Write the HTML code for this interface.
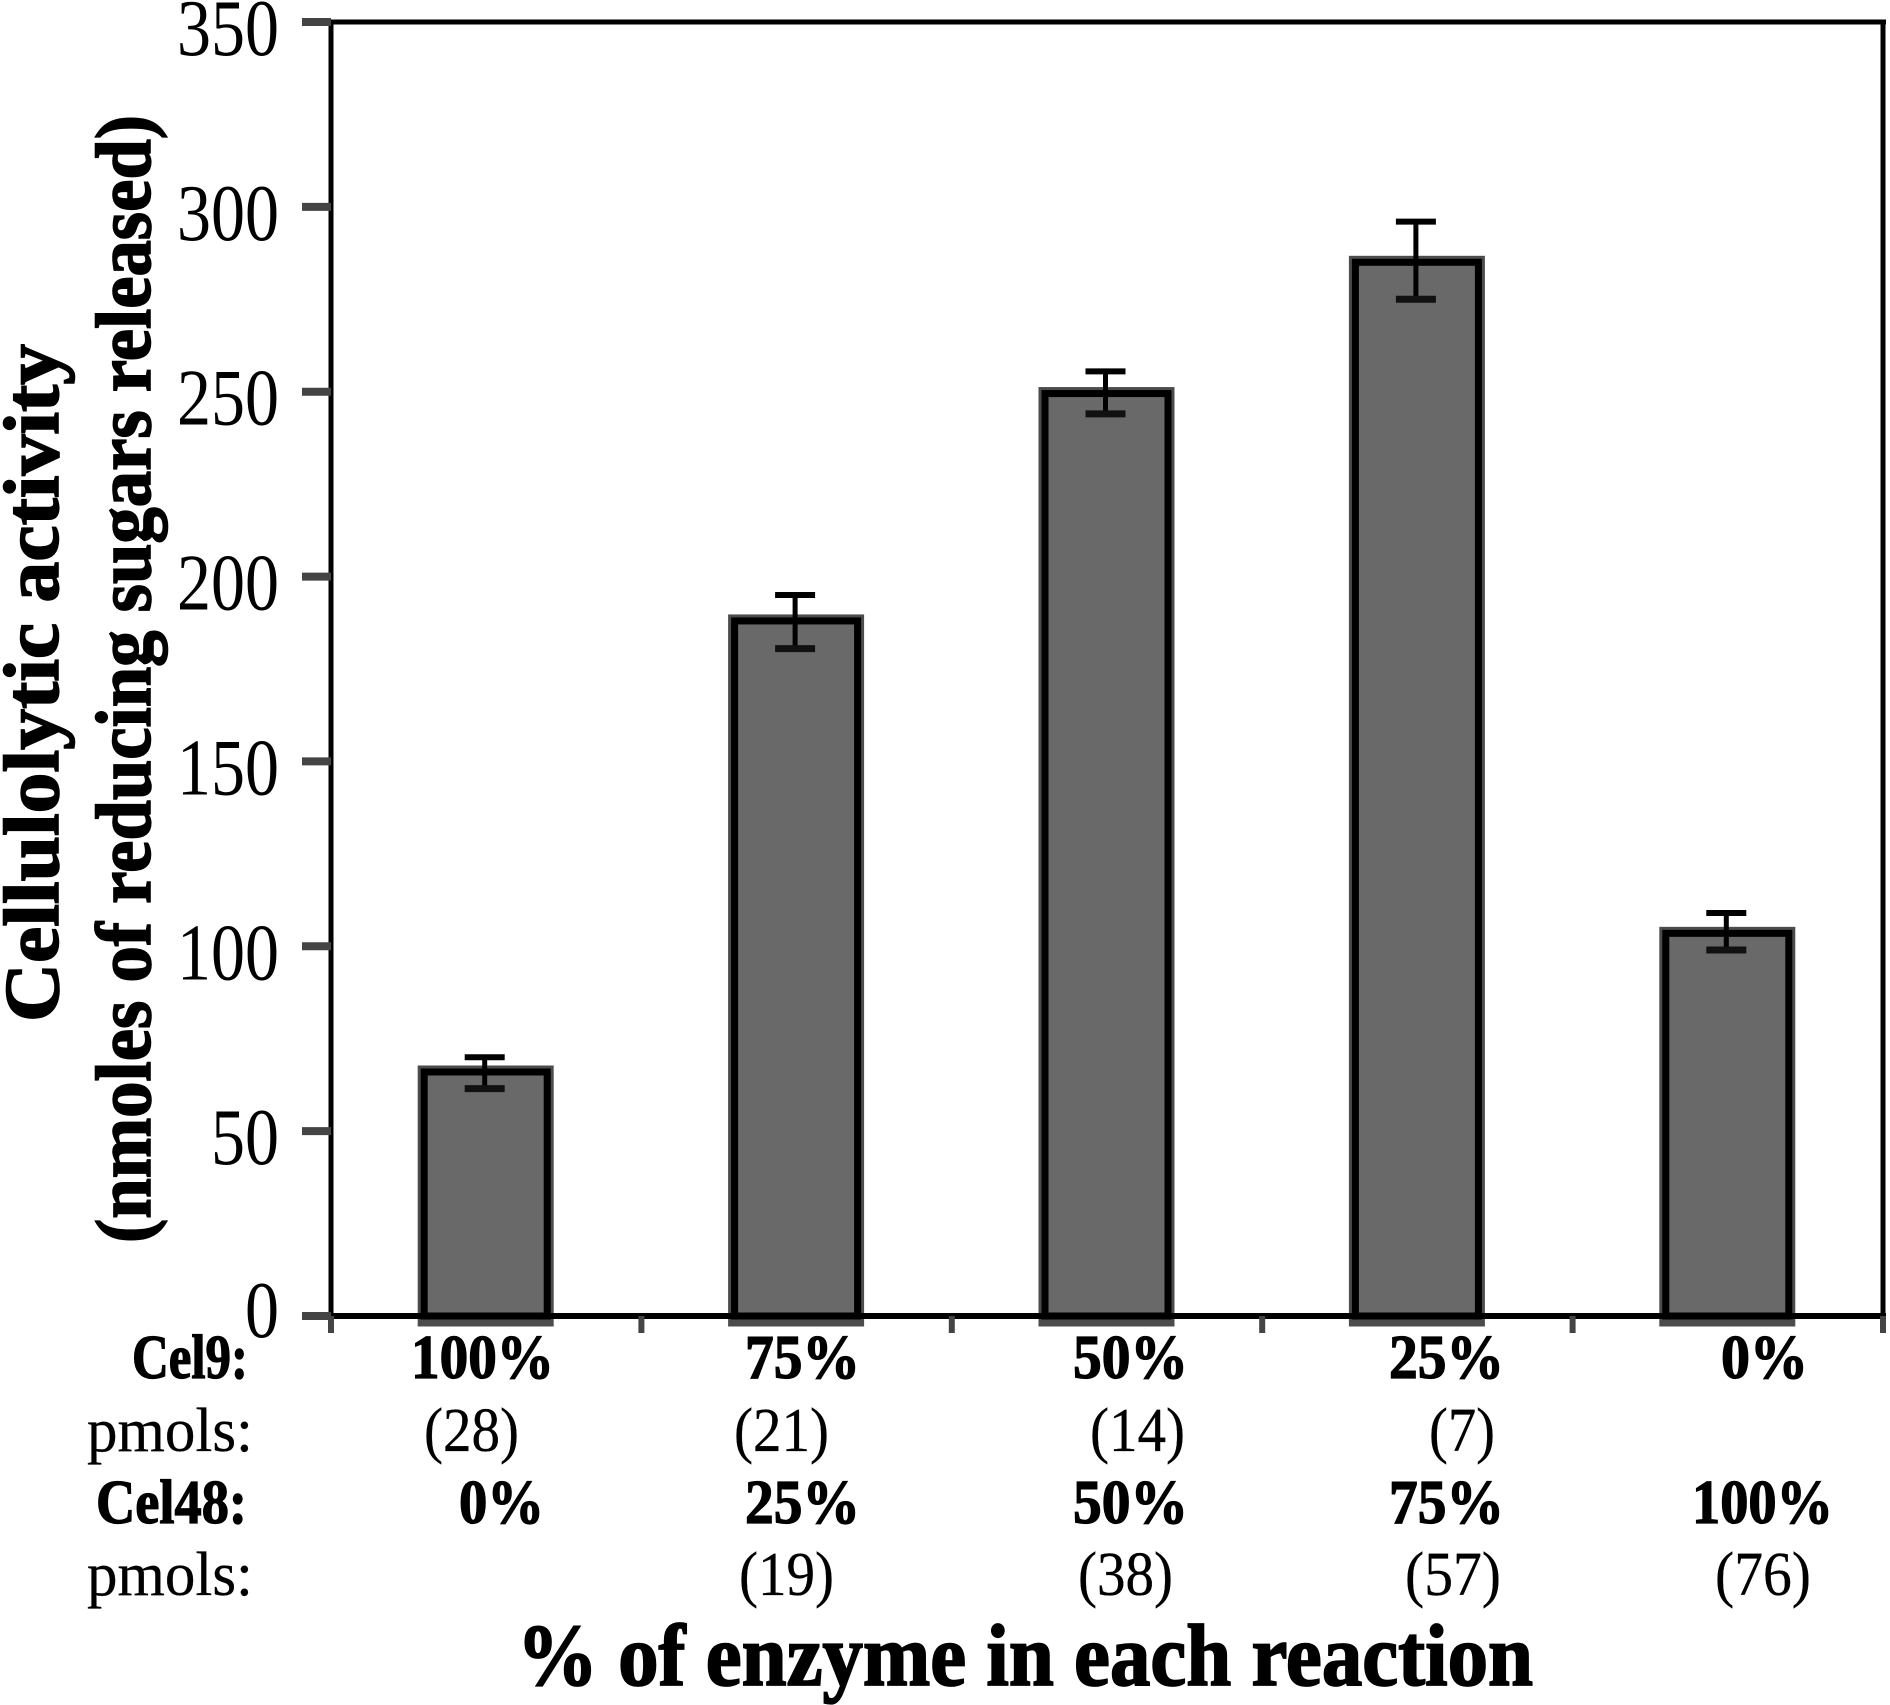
<!DOCTYPE html>
<html lang="en">
<head>
<meta charset="utf-8">
<title>Cellulolytic activity chart</title>
<style>
html,body{margin:0;padding:0;background:#fff;}
svg{display:block;}
text{font-family:"Liberation Serif",serif;fill:#000;}
.tick{font-size:80px;}
.b{font-weight:bold;font-size:62px;stroke:#000;stroke-width:1.3px;}
.n{font-size:62px;stroke:#000;stroke-width:.3px;}
.title{font-weight:bold;font-size:88px;stroke:#000;stroke-width:1.8px;}
.yt{font-weight:bold;font-size:78px;stroke:#000;stroke-width:1.6px;}
</style>
</head>
<body>
<svg id="chart" width="1890" height="1705" viewBox="0 0 1890 1705" xmlns="http://www.w3.org/2000/svg">
<rect width="1890" height="1705" fill="#fff"/>
<g id="marks"></g>
<g id="axes"></g>

<text class="yt" x="58" y="1022" transform="rotate(-90 58 1022)" textLength="678" lengthAdjust="spacingAndGlyphs">Cellulolytic activity</text>
<text class="yt" x="150" y="1243" transform="rotate(-90 150 1243)" textLength="1128" lengthAdjust="spacingAndGlyphs">(nmoles of reducing sugars released)</text>

<g>
<text class="b" x="132" y="1378" textLength="116" lengthAdjust="spacingAndGlyphs">Cel9:</text>
<text class="b" x="411" y="1378" textLength="143" lengthAdjust="spacingAndGlyphs">100%</text>
<text class="b" x="745" y="1378" textLength="115" lengthAdjust="spacingAndGlyphs">75%</text>
<text class="b" x="1073" y="1378" textLength="115" lengthAdjust="spacingAndGlyphs">50%</text>
<text class="b" x="1389" y="1378" textLength="115" lengthAdjust="spacingAndGlyphs">25%</text>
<text class="b" x="1721" y="1378" textLength="87" lengthAdjust="spacingAndGlyphs">0%</text>
</g>
<g>
<text class="n" x="87" y="1451" textLength="166" lengthAdjust="spacingAndGlyphs">pmols:</text>
<text class="n" x="424" y="1451" textLength="95" lengthAdjust="spacingAndGlyphs">(28)</text>
<text class="n" x="734" y="1451" textLength="95" lengthAdjust="spacingAndGlyphs">(21)</text>
<text class="n" x="1090" y="1451" textLength="95" lengthAdjust="spacingAndGlyphs">(14)</text>
<text class="n" x="1429" y="1451" textLength="66" lengthAdjust="spacingAndGlyphs">(7)</text>
</g>
<g>
<text class="b" x="96" y="1523" textLength="151" lengthAdjust="spacingAndGlyphs">Cel48:</text>
<text class="b" x="459" y="1523" textLength="85" lengthAdjust="spacingAndGlyphs">0%</text>
<text class="b" x="745" y="1523" textLength="115" lengthAdjust="spacingAndGlyphs">25%</text>
<text class="b" x="1073" y="1523" textLength="115" lengthAdjust="spacingAndGlyphs">50%</text>
<text class="b" x="1389" y="1523" textLength="115" lengthAdjust="spacingAndGlyphs">75%</text>
<text class="b" x="1692" y="1523" textLength="141" lengthAdjust="spacingAndGlyphs">100%</text>
</g>
<g>
<text class="n" x="87" y="1595" textLength="166" lengthAdjust="spacingAndGlyphs">pmols:</text>
<text class="n" x="739" y="1595" textLength="95" lengthAdjust="spacingAndGlyphs">(19)</text>
<text class="n" x="1078" y="1595" textLength="95" lengthAdjust="spacingAndGlyphs">(38)</text>
<text class="n" x="1405" y="1595" textLength="96" lengthAdjust="spacingAndGlyphs">(57)</text>
<text class="n" x="1715" y="1595" textLength="96" lengthAdjust="spacingAndGlyphs">(76)</text>
</g>
<text class="title" x="517" y="1685" textLength="1016" lengthAdjust="spacingAndGlyphs">% of enzyme in each reaction</text>
</svg>
<script>
const categories = ["100/0", "75/25", "50/50", "25/75", "0/100"];
const activity = [66, 188, 249.5, 285, 103.5];
const errorHigh = [70, 195, 255.5, 296, 109];
const errorLow = [61.5, 180.5, 244, 275, 99];
const yTicks = [0, 50, 100, 150, 200, 250, 300, 350];

const plotLeft = 331, plotRight = 1883, plotTop = 22, plotBottom = 1316, yMax = 350;
function yScale(v) { return plotBottom - (v / yMax) * (plotBottom - plotTop); }
function xBand() { return (plotRight - plotLeft) / categories.length; }
function xScale(i) { return plotLeft + xBand() * (i + 0.5); }
function xEdge(i) { return plotLeft + xBand() * i; }

const NS = "http://www.w3.org/2000/svg";
function mk(tag, parent, attrs) {
  const e = document.createElementNS(NS, tag);
  for (const k in attrs) e.setAttribute(k, attrs[k]);
  parent.appendChild(e);
  return e;
}
const marks = document.getElementById("marks");
const axes = document.getElementById("axes");
const barW = 123;

categories.forEach(function (c, i) {
  const cx = xScale(i) - 0.5, top = yScale(activity[i]);
  const halo = mk("rect", marks, { x: cx - barW / 2, y: top, width: barW, height: plotBottom - top + 4, fill: "#696969", stroke: "#4c4c4c", "stroke-width": 13 });
  
  
  const bar = mk("rect", marks, { x: cx - barW / 2, y: top, width: barW, height: plotBottom - top, fill: "#696969", stroke: "#000", "stroke-width": 7 });
  
  
  const hi = yScale(errorHigh[i]), lo = yScale(errorLow[i]), ex = cx - 1;
  const stem = mk("line", marks, { x1: ex, x2: ex, y1: hi, y2: lo, stroke: "#000", "stroke-width": 5 });
  
  
  const capHi = mk("line", marks, { x1: ex - 20, x2: ex + 20, y1: hi, y2: hi, stroke: "#000", "stroke-width": 6 });
  
  
  const capLo = mk("line", marks, { x1: ex - 20, x2: ex + 20, y1: lo, y2: lo, stroke: "#111", "stroke-width": 7 });
  
  
});

const frameTop = mk("line", axes, { x1: plotLeft, x2: plotRight + 3, y1: plotTop, y2: plotTop, stroke: "#000", "stroke-width": 5 });


const frameRight = mk("line", axes, { x1: plotRight, x2: plotRight, y1: plotTop, y2: plotBottom, stroke: "#000", "stroke-width": 5 });


const yAxis = mk("line", axes, { x1: plotLeft, x2: plotLeft, y1: plotTop, y2: plotBottom + 17, stroke: "#000", "stroke-width": 5 });


const xAxis = mk("line", axes, { x1: plotLeft, x2: plotRight + 3, y1: plotBottom, y2: plotBottom, stroke: "#000", "stroke-width": 6 });



yTicks.forEach(function (t) {
  const y = yScale(t);
  const tick = mk("line", axes, { x1: 302, x2: plotLeft, y1: y, y2: y, stroke: "#444", "stroke-width": 8 });
  
  
  const label = mk("text", axes, { x: 279, y: y + (t === 0 ? 21 : 33), "text-anchor": "end", class: "tick", textLength: String(t).length * 34, lengthAdjust: "spacingAndGlyphs" });
  label.textContent = t;
  
  
});

for (let i = 0; i <= categories.length; i++) {
  const tick = mk("line", axes, { x1: xEdge(i), x2: xEdge(i), y1: plotBottom, y2: plotBottom + 17, stroke: "#444", "stroke-width": 6 });
  
  
}
</script>
</body>
</html>
